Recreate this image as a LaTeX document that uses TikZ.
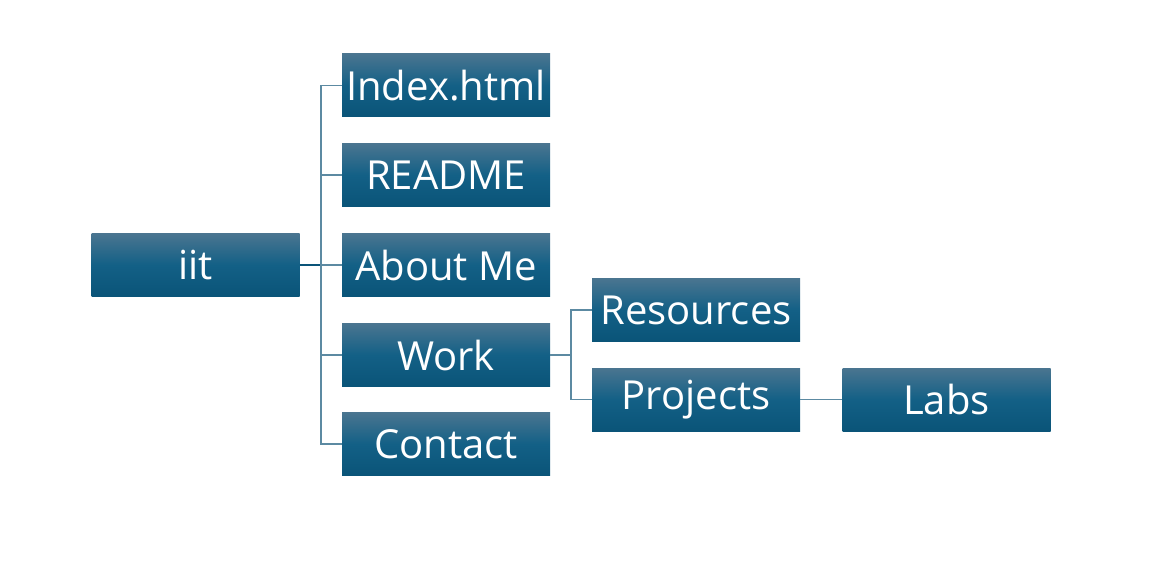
\documentclass[tikz,border=0pt]{standalone}
\usepackage{fontspec}
\setmainfont{Open Sans}
\usetikzlibrary{positioning}
\definecolor{boxtop}{HTML}{4A7590}
\definecolor{boxmid}{HTML}{136086}
\definecolor{boxbot}{HTML}{0A5478}
\definecolor{linec}{HTML}{5C8AA2}
\tikzset{
  filebox/.style={rectangle, minimum width=208pt, minimum height=63pt, inner sep=0pt,
    top color=boxtop, bottom color=boxbot, middle color=boxmid, text=white,
    font=\fontsize{40}{42}\selectfont},
  conn/.style={draw=linec, line width=1.3pt}
}
\begin{document}
\begin{tikzpicture}[x=1pt,y=-1pt]
\useasboundingbox (0,0) rectangle (1153,577);
\node[filebox] (iit) at (195.5,265) {iit};
\node[filebox] (index) at (446,85.5) {Index.html};
\node[filebox] (readme) at (446,175) {README};
\node[filebox] (about) at (446,265) {About Me};
\node[filebox] (work) at (446,355) {Work};
\node[filebox] (contact) at (446,444) {Contact};
\node[filebox] (res) at (696,310) {Resources};
\node[filebox] (proj) at (696,399.5) {Projects};
\node[filebox] (labs) at (946.5,399.5) {Labs};
\coordinate (t1) at (321,265);
\coordinate (t2) at (571,355);
\draw[conn, draw=boxbot] (iit.east) -- (t1);
\foreach \n in {index,readme,about,work,contact}
  \draw[conn] (t1) |- (\n.west);
\draw[conn] (work.east) -- (t2);
\foreach \n in {res,proj}
  \draw[conn] (t2) |- (\n.west);
\draw[conn] (proj.east) -- (labs.west);
\end{tikzpicture}
\end{document}
